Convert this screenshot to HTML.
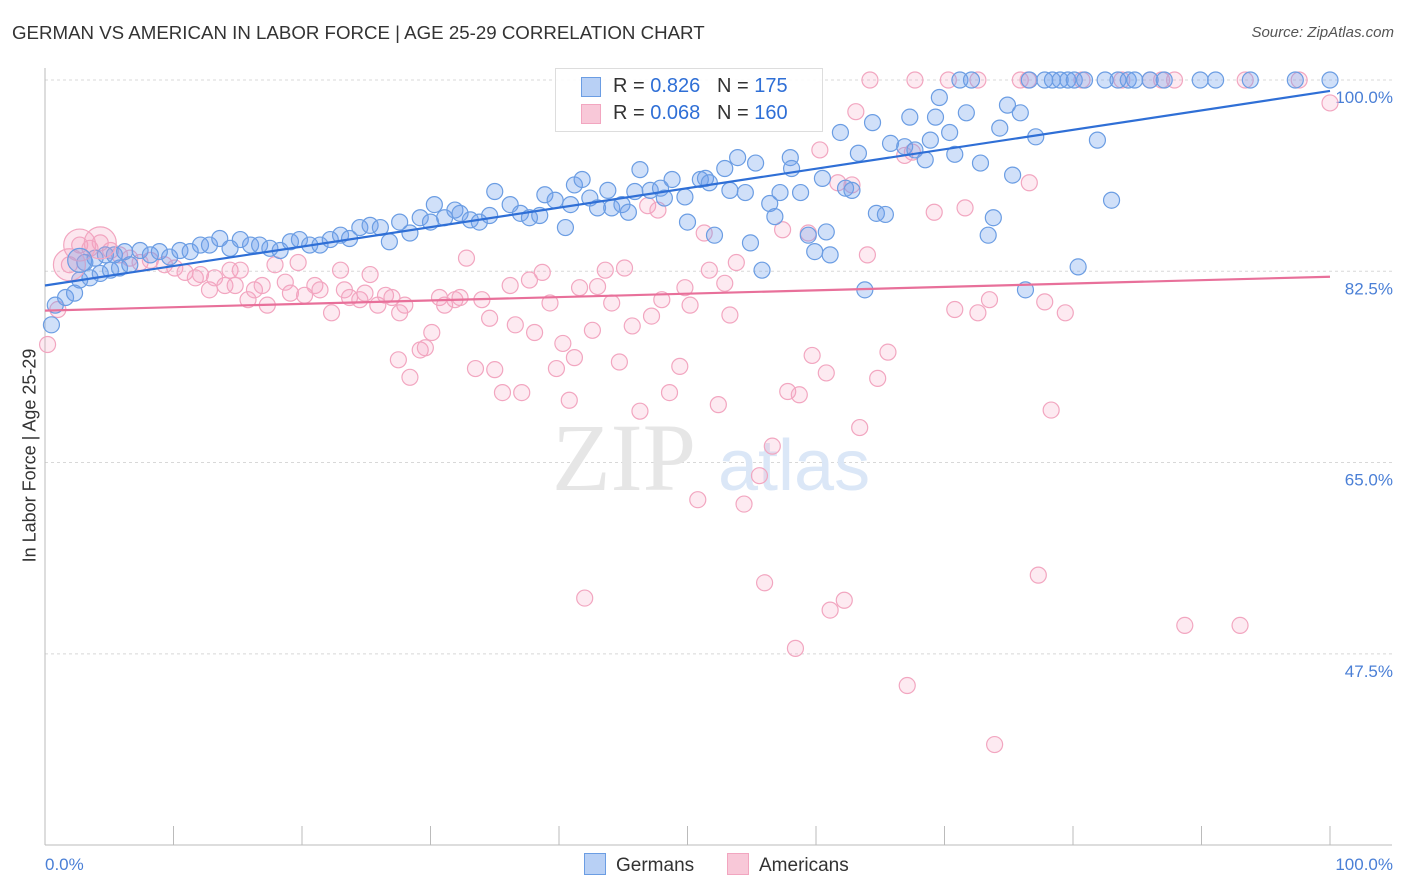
<!DOCTYPE html>
<html><head><meta charset="utf-8"><style>
body{margin:0;background:#fff;font-family:"Liberation Sans",sans-serif;}
#wrap{position:relative;width:1406px;height:892px;overflow:hidden;}
.t{position:absolute;white-space:nowrap;}
</style></head><body>
<div id="wrap">
<div class="t" style="left:12px;top:22px;font-size:18.7px;color:#333;">GERMAN VS AMERICAN IN LABOR FORCE | AGE 25-29 CORRELATION CHART</div>
<div class="t" style="right:12px;top:24px;font-size:15px;color:#555;font-style:italic;">Source: ZipAtlas.com</div>
<div class="t" style="left:-77px;top:445px;font-size:18px;color:#333;transform:rotate(-90deg);">In Labor Force | Age 25-29</div>
<svg id="svg" width="1406" height="892" style="position:absolute;left:0;top:0"></svg>
</div>
<script>
const xTicksPct=[0,10,20,30,40,50,60,70,80,90,100];
const yGrid=[100,82.5,65,47.5];
const yLabels=["100.0%","82.5%","65.0%","47.5%"];
const blueX=[0.5,0.8,1.6,2.3,2.7,3.5,4.3,5.1,5.8,6.6,3.1,3.9,4.7,5.4,6.2,7.4,8.2,8.9,9.7,10.5,11.3,12.1,12.8,13.6,14.4,15.2,16.0,16.7,17.5,18.3,19.1,19.8,20.6,21.4,22.2,23.0,23.7,24.5,25.3,26.1,26.8,27.6,28.4,29.2,30.0,30.3,31.1,31.9,32.3,33.1,33.8,34.6,35.0,36.2,37.0,37.7,38.5,38.9,39.7,40.5,40.9,41.2,41.8,42.4,43.0,43.8,44.1,44.9,45.4,45.9,46.3,47.1,47.9,48.2,48.8,49.8,50.0,51.0,51.4,51.7,52.1,52.9,53.3,53.9,54.5,54.9,55.3,55.8,56.4,56.8,57.2,58.0,58.1,58.8,59.4,59.9,60.5,60.8,61.1,61.9,62.3,62.8,63.3,63.8,64.4,64.7,65.4,65.8,66.9,67.3,67.7,68.5,68.9,69.3,69.6,70.4,70.8,71.7,72.8,73.4,73.8,74.3,74.9,75.3,75.9,76.3,77.1,80.4,81.9,83.0,71.2,72.1,76.6,77.8,78.4,79.0,79.6,80.1,80.9,82.5,83.5,84.3,84.8,86.0,87.1,89.9,91.1,93.8,97.3,100];
const blueY=[77.6,79.4,80.1,80.5,81.7,81.9,82.3,82.6,82.8,83.1,83.3,83.7,84.0,84.0,84.3,84.4,84.0,84.3,83.8,84.4,84.3,84.9,84.9,85.5,84.6,85.4,84.9,84.9,84.6,84.4,85.2,85.4,84.9,84.9,85.4,85.8,85.5,86.5,86.7,86.5,85.2,87.0,86.0,87.4,87.0,88.6,87.4,88.1,87.8,87.2,87.0,87.6,89.8,88.6,87.8,87.4,87.6,89.5,89.0,86.5,88.6,90.4,90.9,89.2,88.3,89.9,88.3,88.6,87.9,89.8,91.8,89.9,90.1,89.2,90.9,89.3,87.0,90.9,91.0,90.6,85.8,91.9,89.9,92.9,89.7,85.1,92.4,82.6,88.7,87.5,89.7,92.9,91.9,89.7,85.8,84.3,91.0,86.1,84.0,95.2,90.1,89.9,93.3,80.8,96.1,87.8,87.7,94.2,93.9,96.6,93.6,92.7,94.5,96.6,98.4,95.2,93.2,97.0,92.4,85.8,87.4,95.6,97.7,91.3,97.0,80.8,94.8,82.9,94.5,89.0,100,100,100,100,100,100,100,100,100,100,100,100,100,100,100,100,100,100,100,100];
const pinkX=[0.2,1.0,1.9,2.7,3.5,4.3,5.1,5.8,6.6,7.4,8.2,9.3,10.1,10.9,11.7,12.1,12.8,13.2,14.0,14.4,14.8,15.2,15.8,16.3,16.9,17.3,17.9,18.7,19.1,19.7,20.2,21.0,21.4,22.3,23.0,23.3,23.7,24.5,24.9,25.3,25.9,26.5,27.0,27.5,27.6,28.0,28.4,29.2,29.6,30.1,30.7,31.1,31.9,32.3,32.8,33.5,34.0,34.6,35.0,35.6,36.2,36.6,37.1,37.7,38.1,38.7,39.3,39.8,40.3,40.8,41.2,41.6,42.0,42.6,43.0,43.6,44.1,44.7,45.1,45.7,46.3,46.9,47.2,47.7,48.0,48.6,49.4,49.8,50.2,50.8,51.3,51.7,52.4,52.9,53.3,53.8,54.4,55.6,56.0,56.6,57.4,57.8,58.4,58.7,59.4,59.7,60.3,60.8,61.1,61.7,62.2,62.8,63.1,63.4,64.0,64.8,65.6,66.9,67.1,67.5,69.2,70.8,71.6,72.6,73.5,73.9,76.6,77.3,77.8,78.3,79.4,88.7,93.0,100,64.2,67.7,70.3,72.6,75.9,76.5,80.7,83.8,86.0,86.9,87.9,93.4,97.6];
const pinkY=[75.8,79.0,83.1,84.9,84.6,85.1,84.4,84.0,83.7,83.3,83.5,83.1,82.8,82.4,81.9,82.2,80.8,81.9,81.2,82.6,81.2,82.6,79.9,80.8,81.2,79.4,83.1,81.5,80.5,83.3,80.3,81.2,80.8,78.7,82.6,80.8,80.1,79.9,80.5,82.2,79.4,80.3,80.1,74.4,78.7,79.4,72.8,75.3,75.5,76.9,80.1,79.4,79.9,80.1,83.7,73.6,79.9,78.2,73.5,71.4,81.2,77.6,71.4,81.7,76.9,82.4,79.6,73.6,75.9,70.7,74.6,81.0,52.6,77.1,81.1,82.6,79.6,74.2,82.8,77.5,69.7,88.5,78.4,88.1,79.9,71.4,73.8,81.0,79.4,61.6,86.0,82.6,70.3,81.4,78.5,83.3,61.2,63.8,54.0,66.5,86.3,71.5,48.0,71.2,86.0,74.8,93.6,73.2,51.5,90.6,52.4,90.4,97.1,68.2,84.0,72.7,75.1,93.1,44.6,93.4,87.9,79.0,88.3,78.7,79.9,39.2,90.6,54.7,79.7,69.8,78.7,50.1,50.1,97.9,100,100,100,100,100,100,100,100,100,100,100,100,100];
const blueBigX=[2.7],blueBigY=[83.5];
const pinkBigX=[2.7,4.3,1.9],pinkBigY=[84.9,85.1,83.1];
const blueTrend=[81.2,99.0], pinkTrend=[78.9,82.0];

const NS="http://www.w3.org/2000/svg",svg=document.getElementById('svg');
const X0=45,X1=1330,YT=80,PPY=10.93;
const sx=v=>X0+(X1-X0)*v/100, sy=v=>YT+(100-v)*PPY;
function mk(tag,a,parent){const e=document.createElementNS(NS,tag);for(const k in a)e.setAttribute(k,a[k]);(parent||svg).appendChild(e);return e;}
yGrid.forEach((g,i)=>{
 const l=mk('line',{x1:X0,x2:1392,y1:sy(g),y2:sy(g),stroke:'#d8d8d8','stroke-dasharray':'3,3'});
 
 
 const t=mk('text',{x:1393,y:sy(g)+23,'text-anchor':'end','font-size':17,fill:'#4a7fd6','font-family':'Liberation Sans'});
 t.textContent=yLabels[i];
 
 
});
const ax=mk('line',{x1:X0,x2:1392,y1:845,y2:845,stroke:'#bbb'});


const ay=mk('line',{x1:X0,x2:X0,y1:68,y2:845,stroke:'#bbb'});


xTicksPct.forEach(p=>{const t=mk('line',{x1:sx(p),x2:sx(p),y1:826,y2:845,stroke:'#bbb'});
 
 });
[[0,'0.0%','start',45],[100,'100.0%','end',1393]].forEach(a=>{const t=mk('text',{x:a[3],y:870,'text-anchor':a[2],'font-size':17,fill:'#4a7fd6','font-family':'Liberation Sans'});t.textContent=a[1];
 
 });
const wm=mk('text',{x:552,y:490,'font-size':96,fill:'#e6e6e6','font-family':'Liberation Serif'});wm.textContent='ZIP';


const wm2=mk('text',{x:718,y:490,'font-size':72,fill:'#dbe7f7','font-family':'Liberation Sans'});wm2.textContent='atlas';


function pts(xs,ys,r,fill,stroke,name){xs.forEach((v,i)=>{const c=mk('circle',{cx:sx(v),cy:sy(ys[i]),r:r,fill:fill,stroke:stroke,'stroke-width':1.2});
 
 });}
pts(pinkX,pinkY,8,'rgba(245,160,190,0.22)','#f2a6c0','american-point');
pts(blueX,blueY,8,'rgba(110,160,235,0.32)','#6b9de3','german-point');
pts(pinkBigX,pinkBigY,16,'rgba(245,160,190,0.25)','#f2a6c0','american-point-large');
pts(blueBigX,blueBigY,12,'rgba(110,160,235,0.3)','#6b9de3','german-point-large');
const bl=mk('line',{x1:sx(0),y1:sy(blueTrend[0]),x2:sx(100),y2:sy(blueTrend[1]),stroke:'#2f6fd6','stroke-width':2.2});


const pl=mk('line',{x1:sx(0),y1:sy(pinkTrend[0]),x2:sx(100),y2:sy(pinkTrend[1]),stroke:'#e8709a','stroke-width':2.2});


</script>
<div class="t" style="left:555px;top:68px;width:266px;height:62px;border:1px solid #ddd;background:rgba(255,255,255,0.9);font-size:20px;color:#333;">
 <div style="position:absolute;left:25px;top:8px;width:18px;height:18px;background:#b8d0f5;border:1px solid #6b9de3;"></div>
 <div style="position:absolute;left:57px;top:6px;">R = <span style="color:#2f6fd6">0.826</span>&nbsp;&nbsp;&nbsp;N = <span style="color:#2f6fd6">175</span></div>
 <div style="position:absolute;left:25px;top:35px;width:18px;height:18px;background:#f8c8d8;border:1px solid #f2a6c0;"></div>
 <div style="position:absolute;left:57px;top:33px;">R = <span style="color:#2f6fd6">0.068</span>&nbsp;&nbsp;&nbsp;N = <span style="color:#2f6fd6">160</span></div>
</div>
<div class="t" style="left:584px;top:853px;font-size:19px;color:#333;"><span style="display:inline-block;width:20px;height:20px;background:#b8d0f5;border:1px solid #6b9de3;vertical-align:-4px;margin-right:10px;"></span>Germans</div>
<div class="t" style="left:727px;top:853px;font-size:19px;color:#333;"><span style="display:inline-block;width:20px;height:20px;background:#f8c8d8;border:1px solid #f2a6c0;vertical-align:-4px;margin-right:10px;"></span>Americans</div>
</body></html>
